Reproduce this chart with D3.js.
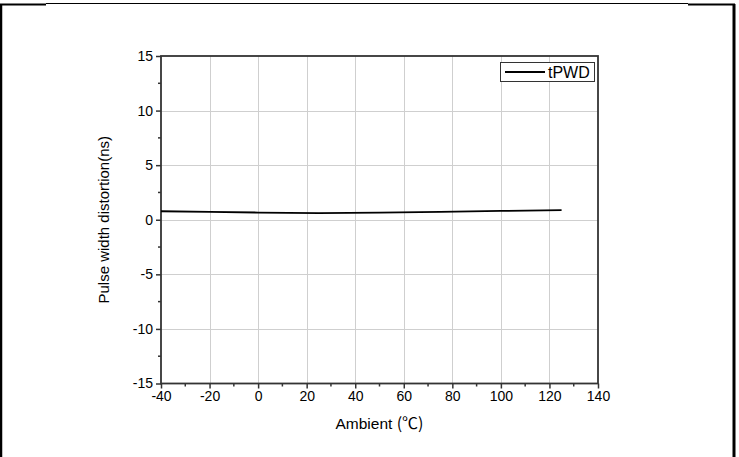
<!DOCTYPE html>
<html>
<head>
<meta charset="utf-8">
<script src="https://cdn.jsdelivr.net/npm/d3@7"></script>
<style>
  html, body { margin: 0; padding: 0; background: #fff; }
  svg { display: block; }
</style>
</head>
<body>
<svg id="chart" width="739" height="457"></svg>
<script>
// Pulse width distortion vs ambient temperature
const temps = [-40, -20, 0, 25, 50, 75, 100, 125];
const tPWD  = [0.78, 0.72, 0.66, 0.60, 0.65, 0.73, 0.81, 0.88];
const xTicks = [-40, -20, 0, 20, 40, 60, 80, 100, 120, 140];
const yTicks = [-15, -10, -5, 0, 5, 10, 15];
const seriesName = "tPWD";

const svg = d3.select("#chart");
const W = 739, H = 457;
const m = { left: 161, right: 598, top: 56, bottom: 383.5 };

const x = d3.scaleLinear().domain([-40, 140]).range([m.left, m.right]);
const y = d3.scaleLinear().domain([-15, 15]).range([m.bottom, m.top]);

// page frame
const frame = svg.append("g").attr("fill", "none").attr("stroke", "#000");
frame.append("line").attr("x1", 1).attr("x2", 1).attr("y1", 4).attr("y2", H).attr("stroke-width", 2.5);
frame.append("line").attr("x1", 0).attr("x2", 46).attr("y1", 4.5).attr("y2", 4.5).attr("stroke-width", 2);
frame.append("line").attr("x1", 46).attr("x2", 688).attr("y1", 3.5).attr("y2", 3.5).attr("stroke-width", 1);
frame.append("line").attr("x1", 688).attr("x2", 735).attr("y1", 4.5).attr("y2", 4.5).attr("stroke-width", 2);
frame.append("line").attr("x1", 734).attr("x2", 734).attr("y1", 4).attr("y2", H).attr("stroke-width", 3);

// grid
const grid = svg.append("g").attr("stroke", "#cfcfcf").attr("stroke-width", 1);
grid.selectAll(".gx").data(xTicks.slice(1, -1)).join("line")
  .attr("x1", d => Math.round(x(d)) + 0.5).attr("x2", d => Math.round(x(d)) + 0.5)
  .attr("y1", m.top).attr("y2", m.bottom);
grid.selectAll(".gy").data(yTicks.slice(1, -1)).join("line")
  .attr("y1", d => Math.round(y(d)) + 0.5).attr("y2", d => Math.round(y(d)) + 0.5)
  .attr("x1", m.left).attr("x2", m.right);

// axes
const fontTick = "'Liberation Sans', Arial, sans-serif";
const xMinor = d3.range(-30, 140, 20);
const yMinor = d3.range(-12.5, 15, 5);
const fmt = d => String(d);

const xAxis = svg.append("g").attr("transform", `translate(0,${m.bottom})`)
  .call(d3.axisBottom(x).tickValues(xTicks).tickSize(5).tickPadding(3).tickFormat(fmt));
xAxis.attr("font-family", null).attr("font-size", null);
xAxis.select(".domain").remove();
xAxis.selectAll(".tick line").attr("stroke", "#333").attr("stroke-width", 1.5);
xAxis.selectAll("text").style("font-family", fontTick).style("font-size", "14px").attr("fill", "#000");
svg.append("g").attr("transform", `translate(0,${m.bottom})`)
  .selectAll("line").data(xMinor).join("line")
  .attr("x1", d => x(d)).attr("x2", d => x(d)).attr("y1", 0).attr("y2", 3)
  .attr("stroke", "#333").attr("stroke-width", 1.5);

const yAxis = svg.append("g").attr("transform", `translate(${m.left},0)`)
  .call(d3.axisLeft(y).tickValues(yTicks).tickSize(5).tickPadding(3).tickFormat(fmt));
yAxis.attr("font-family", null).attr("font-size", null);
yAxis.select(".domain").remove();
yAxis.selectAll(".tick line").attr("stroke", "#333").attr("stroke-width", 1.5);
yAxis.selectAll("text").style("font-family", fontTick).style("font-size", "14px").attr("fill", "#000");
svg.append("g").attr("transform", `translate(${m.left},0)`)
  .selectAll("line").data(yMinor).join("line")
  .attr("y1", d => y(d)).attr("y2", d => y(d)).attr("x1", 0).attr("x2", -3)
  .attr("stroke", "#333").attr("stroke-width", 1.5);

// plot frame
svg.append("rect")
  .attr("x", m.left).attr("y", m.top)
  .attr("width", m.right - m.left).attr("height", m.bottom - m.top)
  .attr("fill", "none").attr("stroke", "#333").attr("stroke-width", 1.8);

// series
const line = d3.line().x((d, i) => x(temps[i])).y(d => y(d));
svg.append("path").datum(tPWD)
  .attr("d", line).attr("fill", "none").attr("stroke", "#000").attr("stroke-width", 1.8);

// legend
const lg = svg.append("g");
lg.append("rect").attr("x", 500.5).attr("y", 62.5).attr("width", 94).attr("height", 19)
  .attr("fill", "#fff").attr("stroke", "#333").attr("stroke-width", 1);
lg.append("line").attr("x1", 505).attr("x2", 545).attr("y1", 72).attr("y2", 72)
  .attr("stroke", "#000").attr("stroke-width", 1.8);
lg.append("text").attr("x", 548).attr("y", 78).text(seriesName)
  .style("font-family", fontTick).style("font-size", "16px").attr("fill", "#000");

// axis titles
svg.append("text")
  .attr("transform", `translate(109,${(m.top + m.bottom) / 2}) rotate(-90)`)
  .attr("text-anchor", "middle")
  .style("font-family", fontTick).style("font-size", "15px").attr("fill", "#000")
  .text("Pulse width distortion(ns)");

const xt = svg.append("text")
  .attr("x", (m.left + m.right) / 2).attr("y", 429)
  .attr("text-anchor", "middle")
  .style("font-family", fontTick).style("font-size", "15.5px").attr("fill", "#000");
xt.append("tspan").text("Ambient ");
xt.append("tspan").style("font-family", "'Noto Sans CJK SC', 'DejaVu Serif', serif").style("font-size", "16px").text("(℃)");
</script>
</body>
</html>
